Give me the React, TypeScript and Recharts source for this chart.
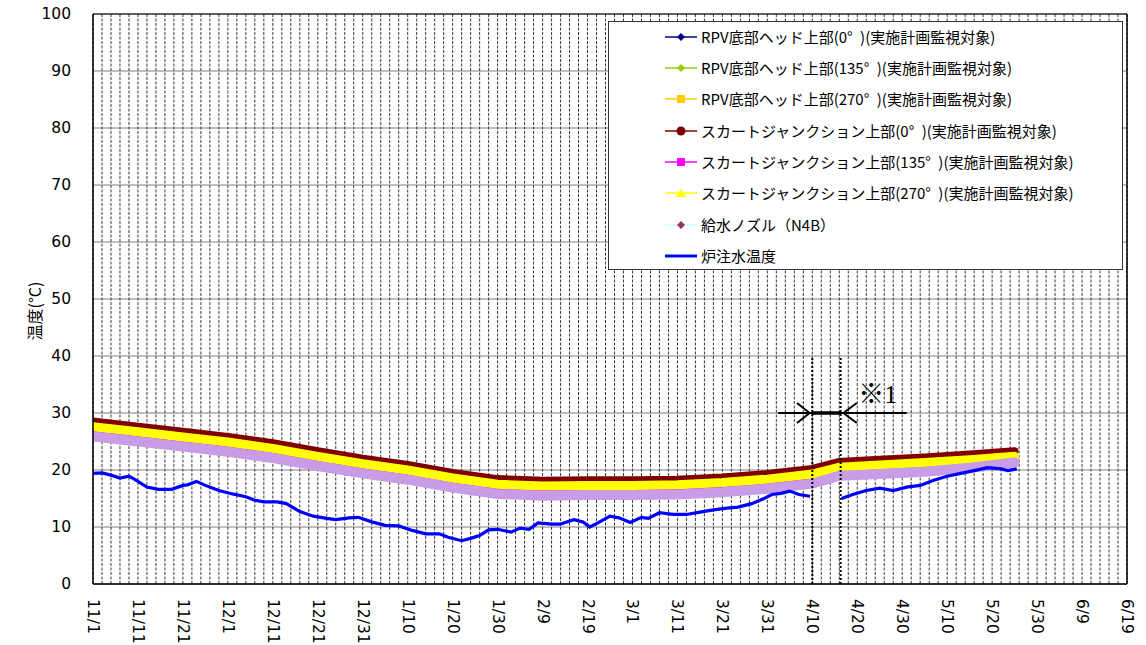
import React from 'react';
import {
  LineChart,
  Line,
  XAxis,
  YAxis,
  CartesianGrid,
  ReferenceLine,
  ReferenceDot,
  Legend,
} from 'recharts';

// ---- axis labels ----
const tickLabels = [
  '11/1', '11/11', '11/21', '12/1', '12/11', '12/21', '12/31', '1/10', '1/20', '1/30',
  '2/9', '2/19', '3/1', '3/11', '3/21', '3/31', '4/10', '4/20', '4/30', '5/10',
  '5/20', '5/30', '6/9', '6/19',
];
const yTicks = [0, 10, 20, 30, 40, 50, 60, 70, 80, 90, 100];
const yLabel = '温度(°C)';

// ---- series names ----
const seriesNames = [
  'RPV底部ヘッド上部(0°\u2002)(実施計画監視対象)',
  'RPV底部ヘッド上部(135°\u2002)(実施計画監視対象)',
  'RPV底部ヘッド上部(270°\u2002)(実施計画監視対象)',
  'スカートジャンクション上部(0°\u2002)(実施計画監視対象)',
  'スカートジャンクション上部(135°\u2002)(実施計画監視対象)',
  'スカートジャンクション上部(270°\u2002)(実施計画監視対象)',
  '給水ノズル（N4B）',
  '炉注水温度',
];

// ---- band series (days since 11/1) ----
const bandDays = [0, 10, 20, 30, 40, 50, 60, 70, 80, 90, 100, 110, 120, 130, 140, 150, 160, 166, 175, 185, 195, 205];
const rpv0 = [27.2, 26.3, 25.4, 24.5, 23.4, 22.0, 20.7, 19.6, 18.2, 17.1, 16.8, 16.9, 16.9, 17.0, 17.4, 18.0, 18.9, 20.1, 20.5, 20.9, 21.4, 22.0];
const rpv135 = [27.1, 26.2, 25.3, 24.4, 23.3, 21.9, 20.6, 19.5, 18.1, 17.0, 16.7, 16.8, 16.8, 16.9, 17.3, 17.9, 18.8, 20.0, 20.4, 20.8, 21.3, 21.9];
const rpv270 = [27.4, 26.5, 25.6, 24.7, 23.6, 22.2, 20.9, 19.8, 18.4, 17.3, 17.0, 17.1, 17.1, 17.2, 17.6, 18.2, 19.1, 20.3, 20.7, 21.1, 21.6, 22.2];
const skirt0 = [28.5, 27.6, 26.7, 25.8, 24.7, 23.3, 22.0, 20.9, 19.5, 18.4, 18.1, 18.2, 18.2, 18.3, 18.7, 19.3, 20.2, 21.4, 21.8, 22.2, 22.7, 23.3];
const skirt135 = [27.0, 26.1, 25.2, 24.3, 23.2, 21.8, 20.5, 19.4, 18.0, 16.9, 16.6, 16.7, 16.7, 16.8, 17.2, 17.8, 18.7, 19.9, 20.3, 20.7, 21.2, 21.8];
const skirt270 = [27.6, 26.7, 25.8, 24.9, 23.8, 22.4, 21.1, 20.0, 18.6, 17.5, 17.2, 17.3, 17.3, 17.4, 17.8, 18.4, 19.3, 20.5, 20.9, 21.3, 21.8, 22.4];
const nozzle = [25.9, 25.0, 24.1, 23.2, 22.1, 20.7, 19.4, 18.3, 16.9, 15.8, 15.5, 15.6, 15.6, 15.7, 16.1, 16.7, 17.6, 19.0, 19.3, 19.7, 20.4, 21.3];

// ---- injection water temperature ----
const injDays = [
  0, 2, 4, 6, 8, 9, 12, 14.5, 17.5, 20, 21, 23, 25, 28, 31, 34, 36, 38, 41, 43,
  46, 49, 52, 54, 57, 59, 62, 65, 68, 71, 74, 77, 79, 82, 84, 86, 88, 90, 93, 95,
  97, 99, 102, 104, 105, 107, 109, 110.5, 112.5, 115, 117, 119.5, 122, 123.5, 126, 129, 132, 135, 138, 141,
  143.5, 146.5, 149, 151, 153, 155, 157, 159.5, 163, 166.5, 169, 172, 175, 178, 181, 184, 187, 190, 193, 196,
  199, 202, 203.5, 205.5,
];
const injTemp: (number | null)[] = [
  19.4, 19.5, 19.1, 18.6, 18.9, 18.5, 17.0, 16.6, 16.6, 17.3, 17.4, 18.0, 17.3, 16.4, 15.8, 15.3, 14.7, 14.4, 14.4, 14.1,
  12.7, 11.9, 11.5, 11.3, 11.6, 11.7, 10.9, 10.3, 10.2, 9.4, 8.8, 8.8, 8.2, 7.6, 8.0, 8.5, 9.5, 9.6, 9.1, 9.8,
  9.6, 10.7, 10.5, 10.5, 10.8, 11.3, 10.9, 10.0, 10.8, 11.9, 11.6, 10.8, 11.7, 11.5, 12.5, 12.2, 12.2, 12.6, 13.0, 13.3,
  13.5, 14.1, 14.9, 15.7, 15.9, 16.3, 15.7, 15.4, null, 15.0, 15.7, 16.4, 16.8, 16.4, 17.0, 17.3, 18.2, 18.9, 19.4, 19.9,
  20.4, 20.2, 19.9, 20.2,
];

const bandData = bandDays.map((d, i) => ({
  day: d,
  rpv0: rpv0[i],
  rpv135: rpv135[i],
  rpv270: rpv270[i],
  skirt0: skirt0[i],
  skirt135: skirt135[i],
  skirt270: skirt270[i],
  nozzle: nozzle[i],
}));
const injData = injDays.map((d, i) => ({ day: d, inj: injTemp[i] }));

const gridDays = Array.from({ length: 116 }, (_, i) => i * 2);

const NUM_FONT = "'DejaVu Sans', 'Liberation Sans', Arial, sans-serif";
const JP_FONT = "'Noto Sans CJK JP', 'Noto Sans', sans-serif";

const legendStyles = [
  { color: '#000080', marker: 'diamond', mColor: '#000080', width: 1.5 },
  { color: '#99CC00', marker: 'diamond', mColor: '#99CC00', width: 1.5 },
  { color: '#FFCC00', marker: 'square', mColor: '#FFCC00', width: 1.5 },
  { color: '#800000', marker: 'circle', mColor: '#800000', width: 1.5 },
  { color: '#FF00FF', marker: 'square', mColor: '#FF00FF', width: 1.5 },
  { color: '#FFFF00', marker: 'triangle', mColor: '#FFFF00', width: 1.5 },
  { color: '#CCFFFF', marker: 'diamond', mColor: '#993366', width: 1.5 },
  { color: '#0000FF', marker: 'none', mColor: '#0000FF', width: 3 },
];

function Marker({ type, color }: { type: string; color: string }) {
  const cx = 16;
  const cy = 7;
  if (type === 'diamond') return <path d={`M${cx} ${cy - 4}L${cx + 4} ${cy}L${cx} ${cy + 4}L${cx - 4} ${cy}Z`} fill={color} />;
  if (type === 'square') return <rect x={cx - 4} y={cy - 4} width={8} height={8} fill={color} />;
  if (type === 'circle') return <circle cx={cx} cy={cy} r={4.5} fill={color} />;
  if (type === 'triangle') return <path d={`M${cx} ${cy - 4.5}L${cx + 5} ${cy + 4}L${cx - 5} ${cy + 4}Z`} fill={color} />;
  return null;
}

function LegendBox() {
  return (
    <div
      style={{
        width: 515,
        height: 249,
        boxSizing: 'border-box',
        background: '#fff',
        border: '1px solid #333',
        position: 'relative',
      }}
    >
      {seriesNames.map((name, i) => {
        const st = legendStyles[i];
        const cy = 14.7 + i * 31.35;
        return (
          <div key={name} style={{ position: 'absolute', left: 0, top: cy - 10, height: 20, width: 515 }}>
            <svg width={34} height={14} style={{ position: 'absolute', left: 56, top: 3 }}>
              <line x1={0} y1={7} x2={32} y2={7} stroke={st.color} strokeWidth={st.width} />
              <Marker type={st.marker} color={st.mColor} />
            </svg>
            <span
              style={{
                position: 'absolute',
                left: 92,
                top: 0,
                lineHeight: '20px',
                fontSize: 15,
                fontFamily: JP_FONT,
                color: '#000',
                whiteSpace: 'nowrap',
              }}
            >
              {name}
            </span>
          </div>
        );
      })}
    </div>
  );
}

function XTick(props: any) {
  const { x, y, payload } = props;
  const d = payload.value;
  if (d % 10 !== 0) return <g />;
  const label = tickLabels[d / 10];
  const ty = y + 7;
  return (
    <g transform={`translate(${x} ${ty}) rotate(90)`}>
      <text x={0} y={0} textAnchor="start" dominantBaseline="central" fontSize={15.5} fontFamily={NUM_FONT} fill="#000">
        {label}
      </text>
    </g>
  );
}

function YTick(props: any) {
  const { x, y, payload } = props;
  return (
    <text x={x - 14} y={y} textAnchor="end" dominantBaseline="central" fontSize={15.5} fontFamily={NUM_FONT} fill="#000">
      {payload.value}
    </text>
  );
}

function YLabelShape() {
  return (
    <g transform="translate(34 311) rotate(-90)">
      <text x={0} y={0} textAnchor="middle" dominantBaseline="central" fontSize={16} fontFamily={JP_FONT} fill="#000">
        {yLabel}
      </text>
    </g>
  );
}

function NoteShape(props: any) {
  const { cx, cy } = props;
  return (
    <text x={cx} y={cy} fontSize={26} fontFamily="'Liberation Serif', 'Noto Sans CJK JP', serif" fill="#000">
      ※1
    </text>
  );
}

export default function App() {
  return (
    <div style={{ position: 'absolute', left: 0, top: 0, width: 1146, height: 645, background: '#fff' }}>
      <LineChart width={1146} height={645} data={bandData} margin={{ top: 14, right: 19, bottom: 0, left: 33 }}>
        <CartesianGrid vertical={false} stroke="#808080" strokeWidth={1} />
        <CartesianGrid horizontal={false} stroke="#3a3a3a" strokeWidth={1} strokeDasharray="3 1.5" />
        <XAxis
          dataKey="day"
          type="number"
          domain={[0, 230]}
          ticks={gridDays}
          interval={0}
          height={61}
          tickLine={false}
          tickSize={6}
          tickMargin={2}
          axisLine={{ stroke: '#000', strokeWidth: 1.5 }}
          tick={<XTick />}
          allowDataOverflow
        />
        <YAxis
          type="number"
          domain={[0, 100]}
          ticks={yTicks}
          interval={0}
          width={60}
          tickLine={false}
          tickSize={6}
          tickMargin={2}
          axisLine={{ stroke: '#000', strokeWidth: 1.5 }}
          tick={<YTick />}
        />
        <ReferenceLine y={100} stroke="#000" strokeWidth={1} />
        <ReferenceLine x={230} stroke="#000" strokeWidth={1.5} />

        <Line data={bandData} type="linear" dataKey="rpv0" name={seriesNames[0]} stroke="#000080" strokeWidth={6} dot={false} activeDot={false} isAnimationActive={false} />
        <Line data={bandData} type="linear" dataKey="rpv135" name={seriesNames[1]} stroke="#99CC00" strokeWidth={6} dot={false} activeDot={false} isAnimationActive={false} />
        <Line data={bandData} type="linear" dataKey="rpv270" name={seriesNames[2]} stroke="#FFCC00" strokeWidth={6} dot={false} activeDot={false} isAnimationActive={false} />
        <Line data={bandData} type="linear" dataKey="skirt0" name={seriesNames[3]} stroke="#800000" strokeWidth={8} strokeLinecap="round" dot={false} activeDot={false} isAnimationActive={false} />
        <Line data={bandData} type="linear" dataKey="skirt135" name={seriesNames[4]} stroke="#FF00FF" strokeWidth={8} strokeLinecap="round" dot={false} activeDot={false} isAnimationActive={false} />
        <Line data={bandData} type="linear" dataKey="skirt270" name={seriesNames[5]} stroke="#FFFF00" strokeWidth={9} strokeLinecap="round" dot={false} activeDot={false} isAnimationActive={false} />
        <Line data={bandData} type="linear" dataKey="nozzle" name={seriesNames[6]} stroke="#C99CE8" strokeWidth={10} strokeLinecap="round" dot={false} activeDot={false} isAnimationActive={false} />
        <Line data={injData} type="linear" dataKey="inj" name={seriesNames[7]} stroke="#0000FF" strokeWidth={3.2} dot={false} activeDot={false} connectNulls={false} isAnimationActive={false} />

        {/* ※1 annotation */}
        <ReferenceLine segment={[{ x: 160, y: 0 }, { x: 160, y: 40 }]} stroke="#000" strokeWidth={2} strokeDasharray="2 2" />
        <ReferenceLine segment={[{ x: 166.3, y: 0 }, { x: 166.3, y: 40 }]} stroke="#000" strokeWidth={2} strokeDasharray="2 2" />
        <ReferenceLine segment={[{ x: 152.4, y: 30 }, { x: 181, y: 30 }]} stroke="#000" strokeWidth={2} />
        <ReferenceLine segment={[{ x: 160, y: 30 }, { x: 166.3, y: 30 }]} stroke="#000" strokeWidth={3.5} />
        <ReferenceLine segment={[{ x: 156.6, y: 31.76 }, { x: 159.4, y: 30 }]} stroke="#000" strokeWidth={2} />
        <ReferenceLine segment={[{ x: 156.6, y: 28.24 }, { x: 159.4, y: 30 }]} stroke="#000" strokeWidth={2} />
        <ReferenceLine segment={[{ x: 169.9, y: 31.76 }, { x: 166.9, y: 30 }]} stroke="#000" strokeWidth={2} />
        <ReferenceLine segment={[{ x: 169.9, y: 28.24 }, { x: 166.9, y: 30 }]} stroke="#000" strokeWidth={2} />
        <ReferenceDot x={170.2} y={31.7} r={0} shape={<NoteShape />} />
        <ReferenceDot x={0} y={50} r={0} shape={<YLabelShape />} ifOverflow="visible" />

        <Legend
          layout="horizontal"
          verticalAlign="middle"
          align="center"
          content={<LegendBox />}
          wrapperStyle={{ left: 608, top: 21, width: 515, height: 249 }}
        />
      </LineChart>
    </div>
  );
}
